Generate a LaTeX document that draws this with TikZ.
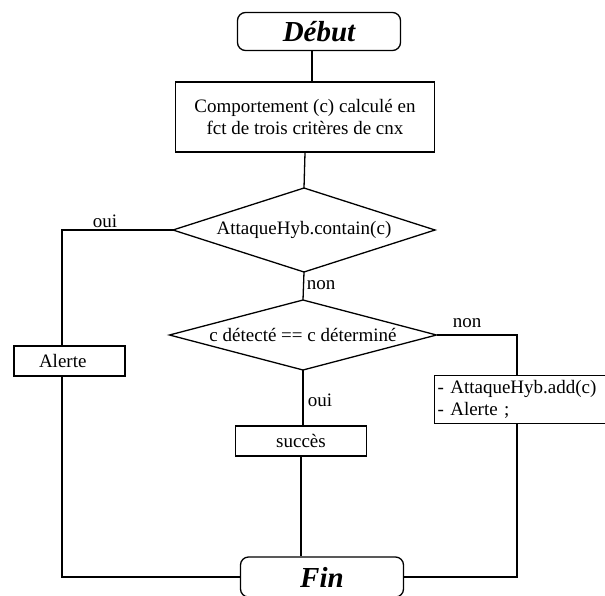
\documentclass[tikz,border=0pt]{standalone}
\usepackage{fontspec}
\setmainfont{Liberation Serif}
\usetikzlibrary{shapes.geometric}
\begin{document}
\begin{tikzpicture}[x=1pt, y=-1pt, line width=1.3pt,
  every node/.style={font=\fontsize{19}{22}\selectfont},
  terminal/.style={draw, rounded corners=8pt, minimum width=163pt,
    minimum height=38pt, inner sep=0pt,
    font=\fontsize{29}{32}\selectfont\bfseries\itshape},
  process/.style={draw, inner sep=0pt},
  decision/.style={draw, diamond, inner sep=0pt, outer sep=0pt},
  lbl/.style={inner sep=0pt}]
  \useasboundingbox (0,0) rectangle (605,595);
  \clip (0,0) rectangle (605,595);

  % helper columns for the vertical connectors
  \coordinate (jt) at (312,0);
  \coordinate (jl) at (62,0);
  \coordinate (jr) at (517,0);

  % nodes
  \node[terminal] (debut) at (319,31.5) {Début};
  \node[process, minimum width=259pt, minimum height=70pt, align=center]
    (comp) at (305,117) {Comportement (c) calculé en\\fct de trois critères de cnx};
  \node[decision, aspect=3.1, minimum width=262pt, minimum height=84pt]
    (d1) at (304,230) {AttaqueHyb.contain(c)};
  \node[decision, aspect=3.8, minimum width=267pt, minimum height=70pt]
    (d2) at (303,335) {c détecté == c déterminé};
  \node[process, minimum width=111pt, minimum height=30pt, text width=105pt,
    align=left, inner xsep=3pt]
    (alerte) at (69.5,361) {\hspace*{22pt}Alerte};
  \node[process, minimum width=131pt, minimum height=30pt]
    (succes) at (301,441) {succès};
  \node[process, anchor=north west, minimum width=200pt, minimum height=48pt,
    text width=194pt, align=left, inner xsep=3pt]
    (add) at (434,375) {- AttaqueHyb.add(c)\\- Alerte ;};
  \node[terminal, minimum height=40pt] (fin) at (322,577) {Fin};

  % connectors
  \draw (debut.south -| jt) -- (comp.north -| jt);
  \draw (comp.south) -- (d1.north);
  \draw (d1.south) -- (d2.north);
  \draw (d2.south) -- (d2.south |- succes.north);
  \draw (succes.south) -- (succes.south |- fin.north);
  \draw (d1.west) -| (alerte.north -| jl);
  \draw (alerte.south -| jl) |- (fin.west);
  \draw (d2.east) -| (add.north -| jr);
  \draw (add.south -| jr) |- (fin.east);

  % branch labels
  \node[lbl] (oui1) at (105,221) {oui};
  \node[lbl] (non1) at (321,285) {non};
  \node[lbl] (non2) at (467,323) {non};
  \node[lbl] (oui2) at (320,400) {oui};
\end{tikzpicture}
\end{document}
